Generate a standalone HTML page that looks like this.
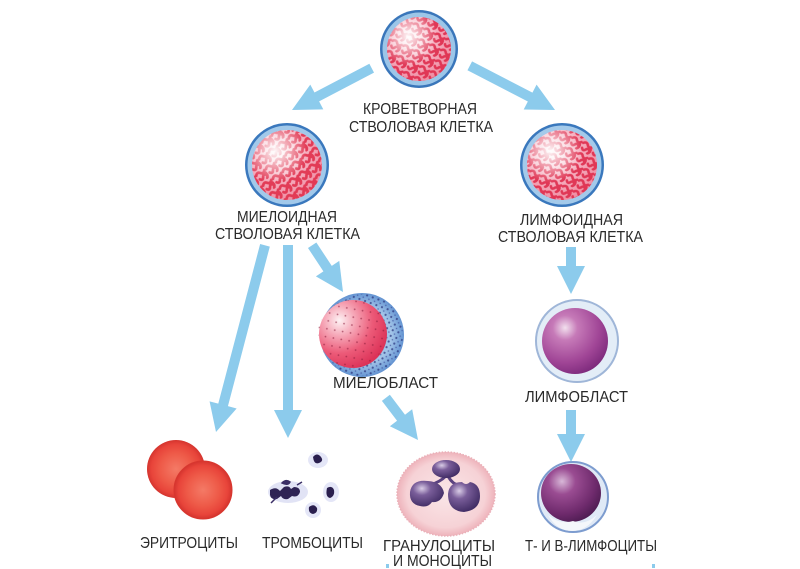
<!DOCTYPE html>
<html><head><meta charset="utf-8"><style>
html,body{margin:0;padding:0;background:#fff;}
svg{display:block;}
text{font-family:"Liberation Sans","DejaVu Sans",sans-serif;font-size:16px;fill:#2a2a2a;}
</style></head><body>
<svg width="800" height="569" viewBox="0 0 800 569" xmlns="http://www.w3.org/2000/svg">
<defs>
  <radialGradient id="pinkbase" cx="0.4" cy="0.35" r="0.7">
    <stop offset="0" stop-color="#fde8ec"/>
    <stop offset="0.5" stop-color="#f6b0c0"/>
    <stop offset="1" stop-color="#ee8aa0"/>
  </radialGradient>
  <radialGradient id="hl" cx="0.33" cy="0.3" r="0.45">
    <stop offset="0" stop-color="#fff" stop-opacity="0.95"/>
    <stop offset="0.6" stop-color="#fff" stop-opacity="0.4"/>
    <stop offset="1" stop-color="#fff" stop-opacity="0"/>
  </radialGradient>
  <pattern id="sq" width="12" height="12" patternUnits="userSpaceOnUse" patternTransform="rotate(25)">
    <path d="M1,3 q3,-3 5,0 t5,0 M2,8 q2,3 4,0 q2,-3 4,0 M10,5 q2,3 -1,6" stroke="#de2c4c" stroke-width="2.6" fill="none" stroke-linecap="round"/>
  </pattern>
  <pattern id="sq2" width="12" height="12" patternUnits="userSpaceOnUse" patternTransform="rotate(-35)">
    <path d="M1,3 q3,-3 5,0 t5,0 M2,8 q2,3 4,0 q2,-3 4,0 M10,5 q2,3 -1,6" stroke="#e0304c" stroke-width="2.8" fill="none" stroke-linecap="round"/>
  </pattern>
  <pattern id="dots" width="6" height="6" patternUnits="userSpaceOnUse" patternTransform="rotate(20)">
    <circle cx="2" cy="2" r="1.1" fill="#27307a"/>
    <circle cx="5" cy="5" r="0.8" fill="#3a4a9a"/>
  </pattern>
  <pattern id="rdots" width="8" height="8" patternUnits="userSpaceOnUse" patternTransform="rotate(10)">
    <circle cx="3" cy="3" r="0.9" fill="#8a1a3a"/>
  </pattern>
  <radialGradient id="mbnuc" cx="0.3" cy="0.3" r="0.75">
    <stop offset="0" stop-color="#fdf2f4"/>
    <stop offset="0.3" stop-color="#f6a8b8"/>
    <stop offset="0.65" stop-color="#ec5a78"/>
    <stop offset="1" stop-color="#dc3358"/>
  </radialGradient>
  <radialGradient id="mbcyt" cx="0.5" cy="0.5" r="0.5">
    <stop offset="0.7" stop-color="#a2c4e8"/>
    <stop offset="1" stop-color="#6494d2"/>
  </radialGradient>
  <radialGradient id="lbnuc" cx="0.35" cy="0.3" r="0.75">
    <stop offset="0" stop-color="#f2e0ee"/>
    <stop offset="0.25" stop-color="#c67ab8"/>
    <stop offset="0.7" stop-color="#a04596"/>
    <stop offset="1" stop-color="#7d2a7c"/>
  </radialGradient>
  <radialGradient id="lcnuc" cx="0.35" cy="0.3" r="0.75">
    <stop offset="0" stop-color="#d8b8d8"/>
    <stop offset="0.3" stop-color="#9a4c92"/>
    <stop offset="0.75" stop-color="#6e2a6c"/>
    <stop offset="1" stop-color="#4e1c52"/>
  </radialGradient>
  <radialGradient id="ery" cx="0.5" cy="0.5" r="0.5">
    <stop offset="0" stop-color="#f47a66"/>
    <stop offset="0.55" stop-color="#ee5a48"/>
    <stop offset="0.85" stop-color="#e8443a"/>
    <stop offset="1" stop-color="#d4342e"/>
  </radialGradient>
  <radialGradient id="gran" cx="0.5" cy="0.5" r="0.5">
    <stop offset="0" stop-color="#fae6e8"/>
    <stop offset="0.8" stop-color="#f6d2d6"/>
    <stop offset="1" stop-color="#eeb3bb"/>
  </radialGradient>
  <radialGradient id="lobe" cx="0.35" cy="0.3" r="0.75">
    <stop offset="0" stop-color="#d9cce6"/>
    <stop offset="0.35" stop-color="#7a5e9a"/>
    <stop offset="1" stop-color="#3e2a62"/>
  </radialGradient>
  <clipPath id="c1"><circle cx="419" cy="49" r="32"/></clipPath>
  <clipPath id="c2"><circle cx="287" cy="165" r="35"/></clipPath>
  <clipPath id="c3"><circle cx="562" cy="165" r="35"/></clipPath>
  <clipPath id="c4"><circle cx="352" cy="334" r="34"/></clipPath>
</defs>

<!-- arrows -->
<g fill="#8ccbec">
  <polygon transform="translate(292,110) rotate(152.3)" points="0,0 -28,-14 -28,-5 -90,-5 -90,5 -28,5 -28,14"/>
  <polygon transform="translate(555,110) rotate(27.4)" points="0,0 -28,-14 -28,-5 -96,-5 -96,5 -28,5 -28,14"/>
  <polygon transform="translate(216,432) rotate(104.7)" points="0,0 -28,-14 -28,-5 -193,-5 -193,5 -28,5 -28,14"/>
  <polygon transform="translate(288,438) rotate(90)" points="0,0 -28,-14 -28,-5 -193,-5 -193,5 -28,5 -28,14"/>
  <polygon transform="translate(343,292) rotate(56.6)" points="0,0 -28,-14 -28,-5 -56,-5 -56,5 -28,5 -28,14"/>
  <polygon transform="translate(418,440) rotate(52.7)" points="0,0 -28,-14 -28,-5 -53,-5 -53,5 -28,5 -28,14"/>
  <polygon transform="translate(571,294) rotate(90)" points="0,0 -28,-14 -28,-5 -47,-5 -47,5 -28,5 -28,14"/>
  <polygon transform="translate(571,462) rotate(90)" points="0,0 -28,-14 -28,-5 -52,-5 -52,5 -28,5 -28,14"/>
</g>

<!-- top stem cell -->
<circle cx="419" cy="49" r="39" fill="#3a76ba"/>
<circle cx="419" cy="49" r="36.5" fill="#9cc6e8"/>
<circle cx="419" cy="49" r="32" fill="url(#pinkbase)"/>
<rect x="385" y="15" width="70" height="70" fill="url(#sq)" clip-path="url(#c1)" opacity="0.9"/>
<circle cx="419" cy="49" r="32" fill="url(#hl)"/>

<!-- myeloid stem cell -->
<circle cx="287" cy="165" r="42" fill="#3a78bd"/>
<circle cx="287" cy="165" r="39.5" fill="#a2c9ea"/>
<circle cx="287" cy="165" r="35" fill="url(#pinkbase)"/>
<rect x="250" y="128" width="75" height="75" fill="url(#sq2)" clip-path="url(#c2)" opacity="0.9"/>
<circle cx="287" cy="165" r="35" fill="url(#hl)"/>

<!-- lymphoid stem cell -->
<circle cx="562" cy="165" r="42" fill="#3a78bd"/>
<circle cx="562" cy="165" r="39.5" fill="#a4caea"/>
<circle cx="562" cy="165" r="35" fill="url(#pinkbase)"/>
<rect x="525" y="128" width="75" height="75" fill="url(#sq)" clip-path="url(#c3)" opacity="0.9"/>
<circle cx="562" cy="165" r="35" fill="url(#hl)"/>

<!-- myeloblast -->
<circle cx="362" cy="335" r="42" fill="url(#mbcyt)"/>
<circle cx="362" cy="335" r="41" fill="url(#dots)" opacity="0.7"/>
<circle cx="353" cy="334" r="34" fill="url(#mbnuc)"/>
<rect x="318" y="300" width="70" height="70" fill="url(#rdots)" clip-path="url(#c4)" opacity="0.6"/>

<!-- lymphoblast -->
<circle cx="577" cy="341" r="41" fill="#e3edf7" stroke="#9fb6d8" stroke-width="2"/>
<circle cx="575" cy="341" r="33" fill="url(#lbnuc)"/>

<!-- lymphocyte -->
<circle cx="573" cy="497" r="35" fill="#dfe9f6" stroke="#7d9ccf" stroke-width="2"/>
<ellipse cx="571" cy="493" rx="30" ry="29" fill="url(#lcnuc)"/>
<path d="M548,515 q12,10 25,6 q12,5 24,-6 q-10,16 -25,16 q-15,0 -24,-16z" fill="#f4f7fb"/>

<!-- granulocyte -->
<ellipse cx="446" cy="494" rx="49" ry="42" fill="url(#gran)" stroke="#eab0b8" stroke-width="1.5" stroke-dasharray="1.5 1.5"/>
<path d="M446,476 q-6,6 -16,9 M448,476 q4,8 12,10" stroke="#5a4280" stroke-width="3" fill="none"/>
<ellipse cx="446" cy="469" rx="14" ry="9" fill="url(#lobe)"/>
<path d="M410,492 q2,-13 18,-11 q14,1 16,12 q-3,10 -12,9 q-4,6 -12,4 q-11,-2 -10,-14z" fill="url(#lobe)"/>
<path d="M448,494 q1,-12 14,-12 q4,4 8,0 q10,2 10,14 q0,14 -16,16 q-16,-1 -16,-18z" fill="url(#lobe)"/>

<!-- erythrocytes -->
<circle cx="176" cy="469" r="29" fill="url(#ery)"/>
<circle cx="203" cy="490" r="29" fill="url(#ery)" stroke="#d8372f" stroke-width="1"/>

<!-- platelets -->
<g>
  <ellipse cx="318" cy="460" rx="10" ry="8" fill="#dde0f5" opacity="0.8"/>
  <ellipse cx="288" cy="492" rx="20" ry="11" fill="#d9dcf3" opacity="0.8"/>
  <ellipse cx="331" cy="492" rx="8" ry="10" fill="#dde0f5" opacity="0.8"/>
  <ellipse cx="313" cy="510" rx="8" ry="8" fill="#dde0f5" opacity="0.8"/>
  <path d="M313,457 q4,-5 8,0 q3,4 -2,6 q-5,2 -6,-6z M315,463 l3,-1" fill="#2a1f4e"/>
  <path d="M270,490 q6,-4 10,1 l4,-4 q5,-2 7,2 l3,-2 q6,0 6,5 q-2,6 -8,4 l-4,3 q-5,1 -7,-3 l-4,3 q-6,1 -7,-4z" fill="#2e2354"/>
  <path d="M282,483 q4,-4 8,-1 q-2,4 -8,1z M277,497 l-6,6 M297,485 l5,-3" stroke="#3a2e66" stroke-width="1.5" fill="#3a2e66"/>
  <path d="M327,488 q5,-3 7,2 q1,6 -4,8 q-5,-1 -3,-10z" fill="#2a1f4e"/>
  <path d="M309,507 q5,-4 8,1 q1,5 -4,6 q-5,-1 -4,-7z" fill="#2a1f4e"/>
</g>

<!-- small cyan marks at bottom -->
<rect x="386" y="564" width="3" height="4" fill="#8ccbec"/>
<rect x="652" y="564" width="3" height="4" fill="#8ccbec"/>

<!-- labels -->
<text x="363" y="114" textLength="114" lengthAdjust="spacingAndGlyphs">КРОВЕТВОРНАЯ</text>
<text x="349" y="132" textLength="144" lengthAdjust="spacingAndGlyphs">СТВОЛОВАЯ КЛЕТКА</text>
<text x="237" y="222" textLength="100" lengthAdjust="spacingAndGlyphs">МИЕЛОИДНАЯ</text>
<text x="215" y="239" textLength="145" lengthAdjust="spacingAndGlyphs">СТВОЛОВАЯ КЛЕТКА</text>
<text x="520" y="225" textLength="103" lengthAdjust="spacingAndGlyphs">ЛИМФОИДНАЯ</text>
<text x="498" y="242" textLength="145" lengthAdjust="spacingAndGlyphs">СТВОЛОВАЯ КЛЕТКА</text>
<text x="333" y="388" textLength="105" lengthAdjust="spacingAndGlyphs">МИЕЛОБЛАСТ</text>
<text x="525" y="402" textLength="103" lengthAdjust="spacingAndGlyphs">ЛИМФОБЛАСТ</text>
<text x="140" y="548" textLength="98" lengthAdjust="spacingAndGlyphs">ЭРИТРОЦИТЫ</text>
<text x="262" y="548" textLength="101" lengthAdjust="spacingAndGlyphs">ТРОМБОЦИТЫ</text>
<text x="383" y="551" textLength="112" lengthAdjust="spacingAndGlyphs">ГРАНУЛОЦИТЫ</text>
<text x="393" y="566" textLength="99" lengthAdjust="spacingAndGlyphs">И МОНОЦИТЫ</text>
<text x="525" y="551" textLength="132" lengthAdjust="spacingAndGlyphs">Т- И В-ЛИМФОЦИТЫ</text>
</svg>
</body></html>
